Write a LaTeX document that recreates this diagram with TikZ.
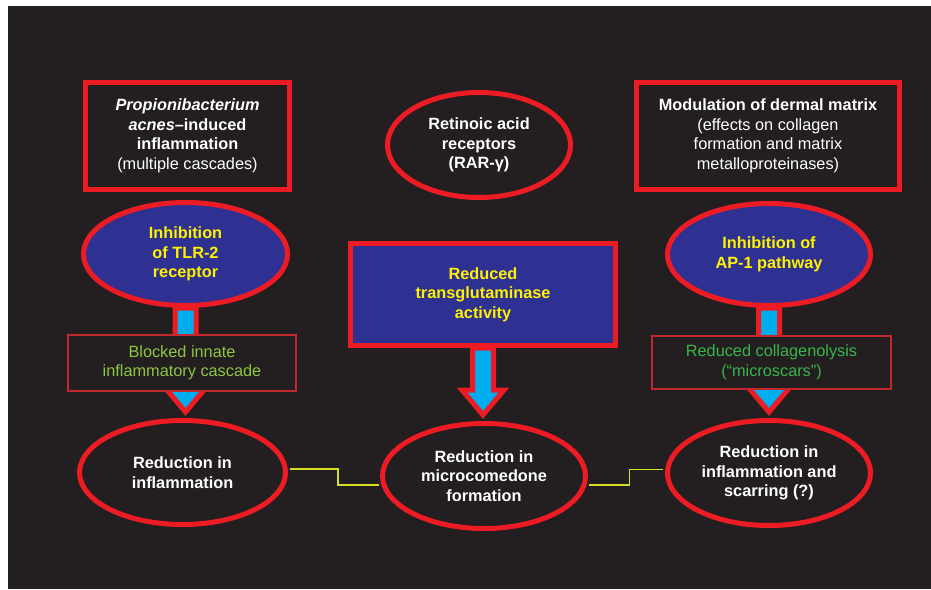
\documentclass[tikz,border=0pt]{standalone}
\usepackage{fontspec}
\setmainfont{Liberation Sans}
\usetikzlibrary{shapes.geometric,calc}

\definecolor{bgdark}{HTML}{231F20}
\definecolor{acnered}{HTML}{ED1C24}
\definecolor{boxred}{HTML}{C1272D}
\definecolor{deepblue}{HTML}{2E3192}
\definecolor{textyellow}{HTML}{FFF200}
\definecolor{arrowcyan}{HTML}{00AEEF}
\definecolor{leafgreen}{HTML}{8DC63F}
\definecolor{grassgreen}{HTML}{39B54A}
\definecolor{linkyellow}{HTML}{D7DF23}

\tikzset{
  every node/.style={align=center, inner sep=0pt},
  thickrect/.style={rectangle, draw=acnered, line width=5pt},
  thickoval/.style={ellipse, draw=acnered, line width=5pt},
  darkfill/.style={fill=bgdark, text=white, font=\fontsize{16.3}{19.5}\selectfont\bfseries},
  bluefill/.style={fill=deepblue, text=textyellow, font=\fontsize{16.3}{19.5}\selectfont\bfseries},
  thinbox/.style={rectangle, draw=boxred, line width=1.5pt, fill=bgdark, font=\fontsize{16.3}{19.5}\selectfont},
  fatarrow/.style={draw=acnered, fill=arrowcyan, line width=5pt, line join=miter},
  link/.style={draw=linkyellow, line width=1.6pt, shorten >=2.5pt, shorten <=2.5pt}
}

\begin{document}
\begin{tikzpicture}[x=1pt,y=-1pt]
  \useasboundingbox (0,0) rectangle (931,589);
  \fill[bgdark] (8,6) rectangle (931,589);

  % top row
  \node[thickrect, darkfill, minimum width=204pt, minimum height=107pt] (pacnes) at (187.5,136)
    {\itshape Propionibacterium\\ {\itshape acnes}--induced\\ inflammation\\ \mdseries (multiple cascades)};
  \node[thickoval, darkfill, minimum width=183pt, minimum height=105pt] (rar) at (479,145)
    {Retinoic acid\\ receptors\\ (RAR-γ)};
  \node[thickrect, darkfill, minimum width=263pt, minimum height=107pt] (dermal) at (768,136)
    {Modulation of dermal matrix\\ \mdseries (effects on collagen\\ \mdseries formation and matrix\\ \mdseries metalloproteinases)};

  % middle row
  \node[thickoval, bluefill, minimum width=204pt, minimum height=103pt] (inhL) at (185.5,254)
    {Inhibition\\ of TLR-2\\ receptor};
  \node[thickrect, bluefill, minimum width=265pt, minimum height=102pt] (tgase) at (483,294.5)
    {Reduced\\ transglutaminase\\ activity};
  \node[thickoval, bluefill, minimum width=203pt, minimum height=102pt] (inhR) at (769,254.5)
    {Inhibition of\\ AP-1 pathway};

  % bottom row
  \node[thickoval, darkfill, minimum width=206pt, minimum height=104pt] (redL) at (182.5,472.5)
    {Reduction in\\ inflammation};
  \node[thickoval, darkfill, minimum width=203pt, minimum height=105pt] (redC) at (484,476)
    {Reduction in\\ microcomedone\\ formation};
  \node[thickoval, darkfill, minimum width=203pt, minimum height=105pt] (redR) at (769,473)
    {Reduction in\\ inflammation and\\ scarring (?)};

  \foreach \a/\b in {inhL/redL, tgase/redC, inhR/redR}
    \draw[fatarrow] let \p1=(\a.south), \p2=(\b.north) in
      (\x1-10.5pt,\y1) -- (\x1-10.5pt,\y2+31pt) -- (\x1-21pt,\y2+31pt) -- (\x1,\y2+6pt)
      -- (\x1+21pt,\y2+31pt) -- (\x1+10.5pt,\y2+31pt) -- (\x1+10.5pt,\y1) -- cycle;

  \node[thinbox, text=leafgreen, minimum width=228pt, minimum height=56pt] (blocked) at (182,363)
    {Blocked innate\\ inflammatory cascade};
  \node[thinbox, text=grassgreen, minimum width=239pt, minimum height=53pt] (collagen) at (771.5,362.5)
    {Reduced collagenolysis\\ (“microscars”)};

  \draw[link] (redL.2) -- ++(50,0) |- (redC.185);
  \draw[link] (redC.-5) -- ++(43,0) |- (redR.178);
\end{tikzpicture}
\end{document}
